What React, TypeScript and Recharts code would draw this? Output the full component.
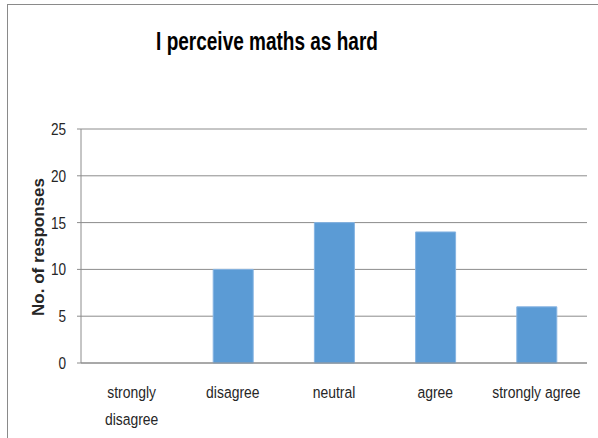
import { BarChart, Bar, XAxis, YAxis, CartesianGrid, Label } from "recharts";

const categories = [
  "strongly disagree",
  "disagree",
  "neutral",
  "agree",
  "strongly agree",
];
const responses = [0, 10, 15, 14, 6];
const yTicks = [0, 5, 10, 15, 20, 25];

const data = categories.map((label, i) => ({ label, count: responses[i] }));

const SANS = '"Liberation Sans", Arial, sans-serif';
const GRID = "#8c8c8c";
const INK = "#262626";
// no condensed face is available, so text is squeezed horizontally
const SQUEEZE = 0.82;

// long labels break at the first space, like the category axis does
function splitLabel(s: string): string[] {
  if (s.length <= 15) return [s];
  const cut = s.indexOf(" ");
  return [s.slice(0, cut), s.slice(cut + 1)];
}

function CategoryTick(props: any) {
  const { x, y, payload } = props;
  const lines = splitLabel(String(payload.value));
  return (
    <g transform={`translate(${x},${y}) scale(${SQUEEZE},1)`}>
      <text x={0} y={0} textAnchor="middle" fontFamily={SANS} fontSize={17} fill={INK}>
        {lines.map((ln, i) => (
          <tspan key={i} x={0} dy={i === 0 ? 35 : 27}>
            {ln}
          </tspan>
        ))}
      </text>
    </g>
  );
}

function ValueTick(props: any) {
  const { x, y, payload } = props;
  return (
    <g transform={`translate(${x},${y}) scale(0.8,1)`}>
      <text x={0} y={0} dy={6} textAnchor="end" fontFamily={SANS} fontSize={17} fill={INK}>
        {payload.value}
      </text>
    </g>
  );
}

function AxisTitle() {
  return (
    <text
      x={44}
      y={247}
      transform="rotate(-90, 44, 247)"
      textAnchor="middle"
      fontFamily={SANS}
      fontWeight="bold"
      fontSize={17}
      fill={INK}
    >
      No. of responses
    </text>
  );
}

export default function App() {
  return (
    <div
      style={{
        position: "absolute",
        left: 0,
        top: 0,
        width: 598,
        height: 438,
        overflow: "hidden",
        background: "#fff",
      }}
    >
      <div
        style={{
          position: "absolute",
          left: 7,
          top: 4,
          width: 620,
          height: 460,
          border: "1px solid #8a8a8a",
        }}
      />
      <div
        style={{
          position: "absolute",
          left: 0,
          width: 534,
          top: 26,
          textAlign: "center",
          fontFamily: SANS,
          fontWeight: "bold",
          fontSize: 25,
          lineHeight: "30px",
          color: "#000",
          transform: "scaleX(0.76)",
          transformOrigin: "267px 0",
        }}
      >
        I perceive maths as hard
      </div>
      <div style={{ position: "absolute", left: 0, top: 0 }}>
        <BarChart
          width={598}
          height={438}
          data={data}
          margin={{ top: 129, right: 11, bottom: 0, left: 0 }}
          barSize={40}
        >
          <CartesianGrid vertical={false} stroke={GRID} />
          <XAxis
            dataKey="label"
            height={75}
            tickLine={false}
            tickSize={0}
            tickMargin={0}
            axisLine={{ stroke: GRID }}
            tick={<CategoryTick />}
            interval={0}
          />
          <YAxis
            width={81}
            domain={[0, 25]}
            ticks={yTicks}
            tickSize={4}
            tickMargin={11}
            tickLine={{ stroke: GRID }}
            axisLine={{ stroke: GRID }}
            tick={<ValueTick />}
          >
            <Label content={<AxisTitle />} />
          </YAxis>
          <Bar
            dataKey="count"
            fill="#5b9bd5"
            stroke="#86b4e2"
            strokeWidth={1}
            isAnimationActive={false}
          />
        </BarChart>
      </div>
    </div>
  );
}
